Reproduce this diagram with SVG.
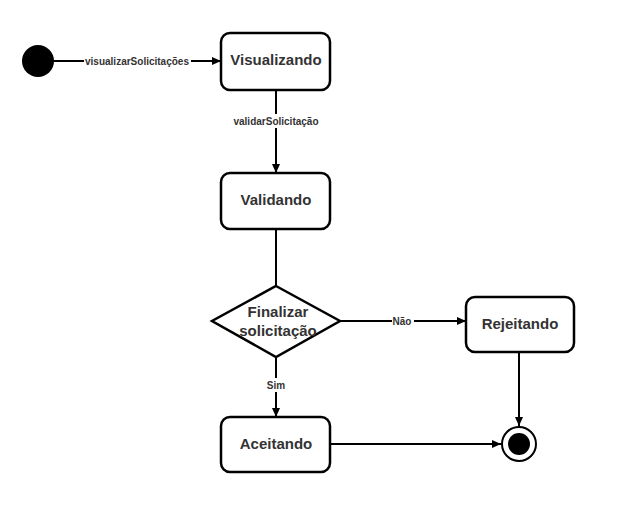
<svg xmlns="http://www.w3.org/2000/svg" width="637" height="513" viewBox="0 0 637 513">
<style>
.box{fill:#fff;stroke:#000;stroke-width:2.5}
.t{font-family:"Liberation Sans",Arial,sans-serif;font-weight:bold;font-size:15px;fill:#333;text-anchor:middle;dominant-baseline:central}
.l{font-family:"Liberation Sans",Arial,sans-serif;font-weight:bold;font-size:10px;fill:#333;text-anchor:middle;dominant-baseline:central}
.e{fill:none;stroke:#000;stroke-width:2}
.lb{fill:#fff}
</style>
<defs>
<marker id="a" viewBox="0 0 10 10" refX="10" refY="5" markerWidth="9" markerHeight="8" markerUnits="userSpaceOnUse" orient="auto" preserveAspectRatio="none">
<path d="M0,0 L10,5 L0,10 Z" fill="#000"/>
</marker>
</defs>
<rect width="637" height="513" fill="#fff"/>
<g id="connectors">
<path class="e" d="M54,61 H221" marker-end="url(#a)"/>
<rect class="lb" x="84" y="54" width="107" height="14"/>
<text class="l" x="137" y="61">visualizarSolicitações</text>
<path class="e" d="M276,90 V173" marker-end="url(#a)"/>
<rect class="lb" x="230" y="114" width="92" height="14"/>
<text class="l" x="276" y="121">validarSolicitação</text>
<path class="e" d="M276,229 V286"/>
<path class="e" d="M340,321 H466" marker-end="url(#a)"/>
<rect class="lb" x="392" y="314" width="22" height="14"/>
<text class="l" x="402" y="321">Não</text>
<path class="e" d="M276,357 V417" marker-end="url(#a)"/>
<rect class="lb" x="265" y="378" width="22" height="14"/>
<text class="l" x="276" y="385">Sim</text>
<path class="e" d="M330,444 H501" marker-end="url(#a)"/>
<path class="e" d="M519,352 V426" marker-end="url(#a)"/>
</g>
<g id="start"><circle cx="38" cy="61" r="16" fill="#000"/></g>
<g id="visualizando"><rect class="box" x="221" y="33" width="109" height="57" rx="9"/><text class="t" x="276" y="59">Visualizando</text></g>
<g id="validando"><rect class="box" x="221" y="173" width="109" height="56" rx="9"/><text class="t" x="276" y="199">Validando</text></g>
<g id="decisao"><polygon class="box" points="276,286 340,321 276,357 212,321"/><text class="t" x="278" y="311">Finalizar</text><text class="t" x="278" y="330">solicitação</text></g>
<g id="rejeitando"><rect class="box" x="466" y="297" width="108" height="55" rx="9"/><text class="t" x="520" y="323">Rejeitando</text></g>
<g id="aceitando"><rect class="box" x="221" y="417" width="109" height="55" rx="9"/><text class="t" x="276" y="443">Aceitando</text></g>
<g id="end"><circle cx="519" cy="444" r="17" fill="#fff" stroke="#000" stroke-width="2"/><circle cx="519" cy="444" r="11" fill="#000"/></g>
</svg>
